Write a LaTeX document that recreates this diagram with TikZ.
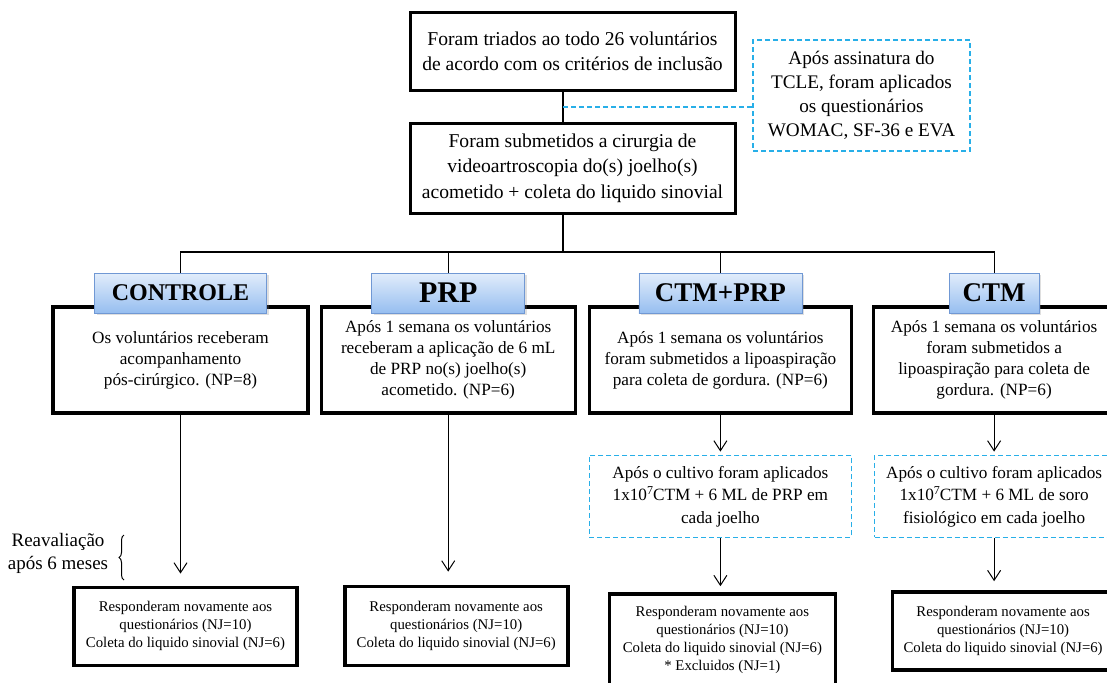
\documentclass[tikz,border=0pt]{standalone}
\usepackage{fontspec}
\setmainfont{Liberation Serif}
\usetikzlibrary{arrows.meta, positioning, shadows, decorations.pathreplacing}
\definecolor{azulC}{RGB}{40,175,232}
\definecolor{azulG}{RGB}{112,152,212}
\definecolor{azulTopo}{RGB}{226,237,251}
\definecolor{azulBase}{RGB}{150,190,240}
\newcommand{\expo}[1]{\raisebox{0.75ex}{\fontsize{6}{6}\selectfont #1}}

\begin{document}
\begin{tikzpicture}[x=0.5pt, y=-0.5pt,
    caixa/.style={rectangle, draw, line width=1.5pt, align=center, inner sep=2pt,
      font=\fontsize{9.8}{12.7}\selectfont},
    grupo/.style={rectangle, draw, line width=1.6pt, minimum height=53pt, align=center,
      inner sep=2pt, font=\fontsize{8.6}{10.5}\selectfont},
    final/.style={rectangle, draw, line width=1.8pt, align=center, inner sep=2pt,
      font=\fontsize{7.4}{9}\selectfont},
    trat/.style={rectangle, draw=azulG, top color=azulTopo, bottom color=azulBase,
      minimum height=20pt, inner sep=1pt, drop shadow={opacity=0.25, shadow xshift=1pt, shadow yshift=-1pt}},
    obs/.style={rectangle, draw=azulC, dash pattern=on 2.5pt off 1.5pt, line width=0.8pt,
      align=center, inner sep=2pt, font=\fontsize{8.6}{11.25}\selectfont},
    lig/.style={line width=0.6pt},
    arr/.style={-{Straight Barb[length=5pt, width=6.5pt]}, line width=0.5pt}]
    \useasboundingbox (0,0) rectangle (1107,682);
    % triagem e cirurgia
    \node[caixa, minimum width=162.5pt, minimum height=39pt](tri) at (572.5,51)
      {Foram triados ao todo 26 voluntários\\de acordo com os critérios de inclusão};
    \node[caixa, minimum width=162.5pt, minimum height=45pt, below=15pt of tri](sub)
      {Foram submetidos a cirurgia de\\videoartroscopia do(s) joelho(s)\\acometido + coleta do liquido sinovial};
    \node[obs, minimum width=108.5pt, minimum height=55.5pt, font=\fontsize{9.6}{12}\selectfont](tcle) at (861.5,95.5)
      {Após assinatura do\\TCLE, foram aplicados\\os questionários\\WOMAC, SF-36 e EVA};
    % grupos
    \node[grupo, minimum width=127.5pt](b1) at (180.5,360)
      {Os voluntários receberam\\acompanhamento\\pós-cirúrgico. (NP=8)};
    \node[grupo, minimum width=127pt, right=5pt of b1](b2)
      {Após 1 semana os voluntários\\receberam a aplicação de 6 mL\\de PRP no(s) joelho(s)\\acometido. (NP=6)};
    \node[grupo, minimum width=131pt, right=5.5pt of b2](b3)
      {Após 1 semana os voluntários\\foram submetidos a lipoaspiração\\para coleta de gordura. (NP=6)};
    \node[grupo, minimum width=120.5pt, right=9.5pt of b3](b4)
      {Após 1 semana os voluntários\\foram submetidos a\\lipoaspiração para coleta de\\gordura. (NP=6)};
    % cultivo
    \node[obs, minimum width=131pt, minimum height=41pt, below=20pt of b3](d3)
      {Após o cultivo foram aplicados\\1x10\expo{7}CTM + 6 ML de PRP em\\cada joelho};
    \node[obs, minimum width=119.5pt, minimum height=41pt, below=20pt of b4](d4)
      {Após o cultivo foram aplicados\\1x10\expo{7}CTM + 6 ML de soro\\fisiológico em cada joelho};
    % reavaliacao
    \node[final, minimum width=111.5pt, minimum height=39pt, below=85.5pt of b1, xshift=2.5pt](f1)
      {Responderam novamente aos\\questionários (NJ=10)\\Coleta do liquido sinovial (NJ=6)};
    \node[final, minimum width=111.5pt, minimum height=39.5pt, below=85pt of b2, xshift=4pt](f2)
      {Responderam novamente aos\\questionários (NJ=10)\\Coleta do liquido sinovial (NJ=6)};
    \node[final, minimum width=113pt, minimum height=45.5pt, below=27pt of d3, xshift=1pt](f3)
      {Responderam novamente aos\\questionários (NJ=10)\\Coleta do liquido sinovial (NJ=6)\\* Excluidos (NJ=1)};
    \node[final, minimum width=110.5pt, minimum height=39pt, below=26pt of d4, xshift=4.5pt](f4)
      {Responderam novamente aos\\questionários (NJ=10)\\Coleta do liquido sinovial (NJ=6)};
    \node[align=center, font=\fontsize{9.5}{11.5}\selectfont](reav) at (58,553){Reavaliação\\após 6 meses};
    \draw[decorate, decoration={brace, amplitude=2.5pt}, line width=0.5pt] (124,580) -- (124,535);
    % ligacoes
    \coordinate (tronco) at (563,107);
    \coordinate (bus) at (563,252);
    \draw[lig] (tri.south -| tronco) -- (sub.north -| tronco);
    \draw[azulC, dash pattern=on 2.5pt off 1.5pt, line width=0.8pt] (tronco) -- (tronco -| tcle.west);
    \draw[arr, shorten >=6pt] (b1) -- (b1 |- f1.north);
    \draw[arr, shorten >=6.5pt] (b2) -- (b2 |- f2.north);
    \draw[arr, shorten >=1.5pt] (b3) -- (b3 |- d3.north);
    \draw[arr, shorten >=3pt] (d3) -- (d3 |- f3.north);
    \draw[arr, shorten >=1.5pt] (b4) -- (b4 |- d4.north);
    \draw[arr, shorten >=4.5pt] (d4) -- (d4 |- f4.north);
    % rotulos dos grupos
    \node[trat, minimum width=86pt, above=-4pt of b1.north, font=\fontsize{12}{14}\selectfont\bfseries](r1){CONTROLE};
    \node[trat, minimum width=76.5pt, above=-4pt of b2.north, font=\fontsize{15}{17}\selectfont\bfseries](r2){PRP};
    \node[trat, minimum width=81.5pt, above=-4pt of b3.north, font=\fontsize{13.5}{16}\selectfont\bfseries](r3){CTM+PRP};
    \node[trat, minimum width=45pt, above=-4pt of b4.north, font=\fontsize{13.5}{16}\selectfont\bfseries](r4){CTM};
    \draw[lig] (sub.south -| bus) -- (bus);
    \draw[lig] (r1.north) |- (bus) -| (r4.north);
    \draw[lig] (r2.north) -- (r2.north |- bus); \draw[lig] (r3.north) -- (r3.north |- bus);
  \end{tikzpicture}
\end{document}
